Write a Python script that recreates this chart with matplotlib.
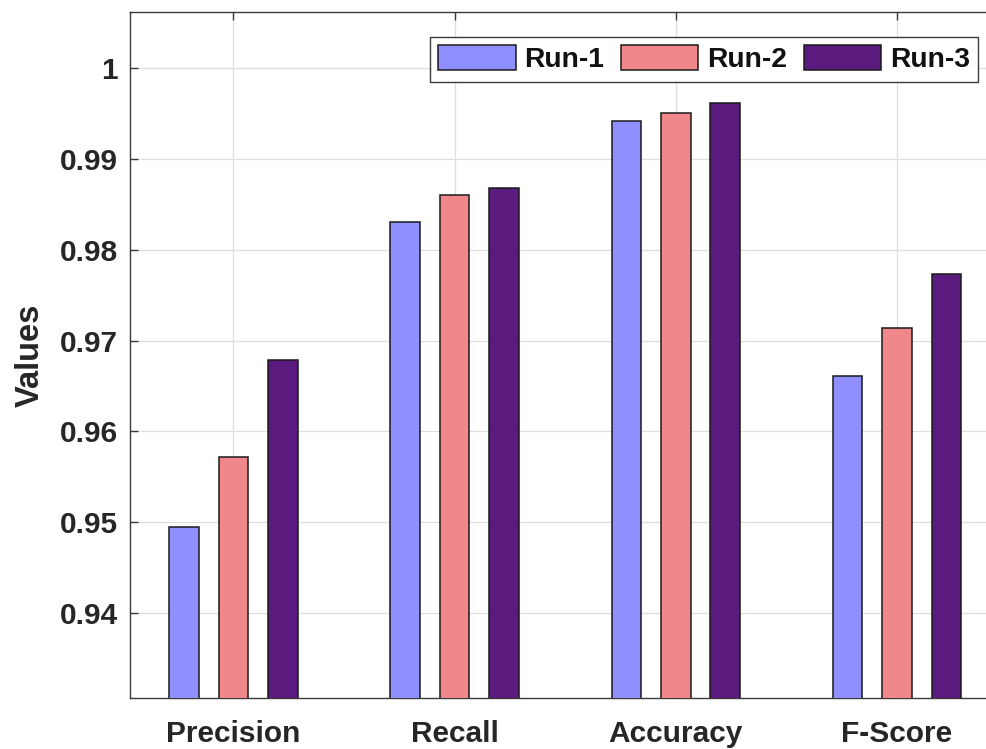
import matplotlib
matplotlib.use("Agg")
import matplotlib.pyplot as plt
import numpy as np

categories = ["Precision", "Recall", "Accuracy", "F-Score"]
series_names = ["Run-1", "Run-2", "Run-3"]
run1 = [0.9495, 0.9831, 0.9942, 0.9661]
run2 = [0.9572, 0.9860, 0.9951, 0.9714]
run3 = [0.9679, 0.9868, 0.9962, 0.9773]
yticks = [0.94, 0.95, 0.96, 0.97, 0.98, 0.99, 1.0]
ytick_labels = ["0.94", "0.95", "0.96", "0.97", "0.98", "0.99", "1"]

colors = ["#8F8FFF", "#F0878B", "#5A1A7E"]
text_color = "#262626"

plt.rcParams["font.family"] = ["Liberation Sans", "DejaVu Sans"]
plt.rcParams["font.weight"] = "bold"

W, H = 987, 749
fig = plt.figure(figsize=(W / 100, H / 100), dpi=100)
left_px, right_px = 130.3, 1007.6
top_px, bot_px = 12.0, 697.7
ax = fig.add_axes([left_px / W, 1 - bot_px / H, (right_px - left_px) / W, (bot_px - top_px) / H])

x = np.arange(1, len(categories) + 1)
offsets = [-0.223, 0.0, 0.223]
width = 0.134
for vals, off, c, name in zip([run1, run2, run3], offsets, colors, series_names):
    ax.bar(x + off, vals, width=width, color=c, edgecolor="#1a1a1a", linewidth=1.1,
           label=name, zorder=3)

ax.set_xlim(0.534, 4.5)
ax.set_ylim(0.93064, 1.0062)
ax.set_xticks(x)
ax.set_xticklabels(categories)
ax.set_yticks(yticks)
ax.set_yticklabels(ytick_labels)

ax.grid(True, color="#dedede", linewidth=0.9, zorder=0)
ax.set_axisbelow(True)
for s in ax.spines.values():
    s.set_color("#3a3a3a")
    s.set_linewidth(1.0)
ax.spines["right"].set_visible(False)

ax.tick_params(axis="both", direction="in", length=6, width=1.0, color="#3a3a3a",
               labelsize=21.5, labelcolor=text_color, top=True, right=False)
ax.tick_params(axis="y", pad=9)
ax.tick_params(axis="x", pad=16)
for lab in ax.get_xticklabels() + ax.get_yticklabels():
    lab.set_fontweight("bold")

ax.set_ylabel("Values", fontsize=23.5, fontweight="bold", color=text_color, labelpad=10)

leg = ax.legend(loc="upper right", bbox_to_anchor=(978.2 / W, 1 - 36.7 / H),
                bbox_transform=fig.transFigure, ncol=3, fontsize=20.3,
                frameon=True, fancybox=False, borderaxespad=0, borderpad=0.3,
                handlelength=2.75, handleheight=1.0, handletextpad=0.3,
                columnspacing=0.6)
leg.get_frame().set_edgecolor("#3a3a3a")
leg.get_frame().set_linewidth(1.0)
leg.get_frame().set_alpha(1.0)
for t in leg.get_texts():
    t.set_fontweight("bold")
    t.set_color("#111111")

fig.savefig("out.png", dpi=100)
